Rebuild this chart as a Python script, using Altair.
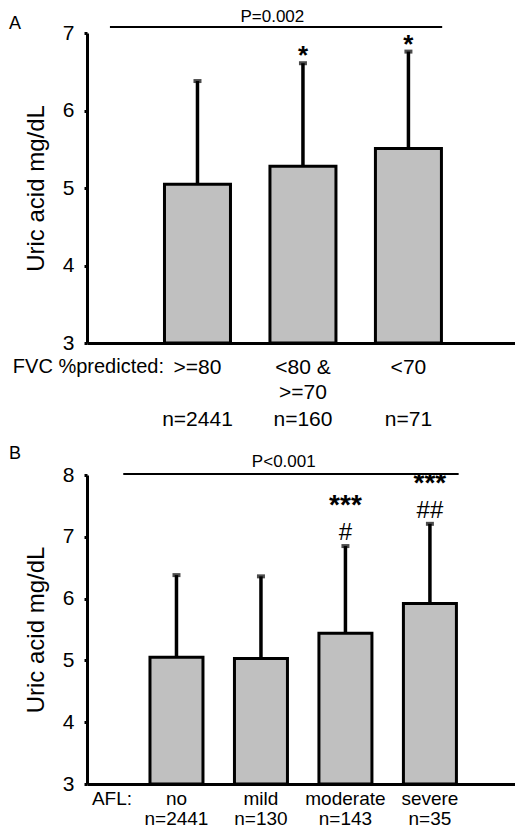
import altair as alt
import pandas as pd

FONT = "Liberation Sans"

# ---------------- data ----------------
fvc_groups = [">=80", "<80 &\n>=70", "<70"]
fvc_n = ["n=2441", "n=160", "n=71"]
fvc_mean = [5.05, 5.28, 5.51]
fvc_upper = [6.38, 6.61, 6.76]
fvc_sig = ["", "*", "*"]
fvc_p = "P=0.002"

afl_groups = ["no", "mild", "moderate", "severe"]
afl_n = ["n=2441", "n=130", "n=143", "n=35"]
afl_mean = [5.05, 5.03, 5.44, 5.92]
afl_upper = [6.38, 6.36, 6.85, 7.21]
afl_sig = ["", "", "***", "***"]
afl_hash = ["", "", "#", "##"]
afl_p = "P<0.001"


def frame(groups, n, mean, upper, sig, hashes=None):
    df = pd.DataFrame({
        "group": groups, "n": n, "mean": mean, "upper": upper, "sig": sig,
    })
    df["hash"] = hashes if hashes is not None else [""] * len(groups)
    df["pos"] = range(1, len(groups) + 1)
    return df


def panel(df, letter, axis_lbl, pval, ymax, W, H, step, bar_w, br, ptx, cfg):
    xs = alt.Scale(domain=[0, W / step], nice=False, zero=False)
    ys = alt.Scale(domain=[3, ymax], nice=False, zero=False)
    xaxis = alt.Axis(ticks=False, labels=False, grid=False, title=None,
                     domainWidth=3, domainColor="black")
    yaxis = alt.Axis(values=list(range(3, ymax + 1)), title="Uric acid mg/dL",
                     grid=False, tickSize=3, tickWidth=3, tickColor="black",
                     domainWidth=3, domainColor="black",
                     labelFontSize=21, labelColor="black", labelFont=FONT,
                     labelPadding=10, titleFontSize=24, titleFontWeight="normal",
                     titleColor="black", titleFont=FONT, titlePadding=14)
    base = alt.Chart(df)
    X = alt.X("pos:Q", scale=xs, axis=xaxis)

    def Y(f):
        return alt.Y(f, scale=ys, axis=yaxis)

    err = base.mark_rule(color="black", strokeWidth=3.5).encode(
        x=X, y=Y("mean:Q"), y2="upper:Q")
    bars = base.mark_bar(size=bar_w, fill="#c0c0c0", stroke="black",
                         strokeWidth=3).encode(
        x=X, y=Y("mean:Q"), y2=alt.datum(3))
    cap = base.mark_tick(orient="horizontal", size=8, thickness=4,
                         color="black").encode(x=X, y=Y("upper:Q"))
    star = base.mark_text(fontSize=cfg["star_size"], fontWeight="bold",
                          font=FONT, baseline="middle",
                          dy=cfg["star_dy"]).encode(
        x=X, y=Y("upper:Q"), text="sig:N")
    hashm = base.mark_text(fontSize=24, font=FONT, baseline="middle",
                           dy=-13).encode(
        x=X, y=Y("upper:Q"), text="hash:N")
    grp = base.mark_text(fontSize=cfg["lbl_size"], font=FONT, baseline="top",
                         lineBreak="\n", lineHeight=cfg["line_h"]).encode(
        x=X, y=alt.value(H + cfg["lbl_dy"]), text="group:N")
    nn = base.mark_text(fontSize=cfg["lbl_size"], font=FONT,
                        baseline="top").encode(
        x=X, y=alt.value(H + cfg["n_dy"]), text="n:N")
    one = alt.Chart(pd.DataFrame({"p": [pval], "letter": [letter],
                                  "axis": [axis_lbl]}))
    bracket = one.mark_rule(color="black", strokeWidth=2).encode(
        x=alt.datum(br[0], scale=xs, axis=xaxis), x2=alt.datum(br[1]),
        y=alt.value(cfg["br_y"]))
    ptext = one.mark_text(fontSize=17, font=FONT, baseline="middle").encode(
        x=alt.datum(ptx, scale=xs, axis=xaxis), y=alt.value(cfg["p_y"]),
        text="p:N")
    let = one.mark_text(fontSize=18, font=FONT, baseline="middle").encode(
        x=alt.value(cfg["let_x"]), y=alt.value(cfg["let_y"]), text="letter:N")
    axl = one.mark_text(fontSize=cfg["axl_size"], font=FONT, baseline="top",
                        align="right").encode(
        x=alt.value(cfg["axl_x"]), y=alt.value(H + cfg["lbl_dy"]),
        text="axis:N")
    return alt.layer(err, bars, cap, star, hashm, grp, nn, bracket, ptext,
                     let, axl).properties(width=W, height=H)


dfa = frame(fvc_groups, fvc_n, fvc_mean, fvc_upper, fvc_sig)
dfb = frame(afl_groups, afl_n, afl_mean, afl_upper, afl_sig, afl_hash)

pa = panel(dfa, "A", "FVC %predicted:", fvc_p, 7, 428, 310, 108, 66,
           (0.17, 3.32), 1.71,
           dict(star_size=26, star_dy=-7, lbl_size=21, line_h=25,
                lbl_dy=14, n_dy=66, br_y=-6, p_y=-16, let_x=-72, let_y=-9,
                axl_x=77, axl_size=20))
pb = panel(dfb, "B", "AFL:", afl_p, 8, 428, 309, 86.5, 53,
           (0.37, 4.34), 2.27,
           dict(star_size=28, star_dy=-40, lbl_size=19, line_h=22,
                lbl_dy=6, n_dy=26, br_y=-1, p_y=-13, let_x=-72, let_y=-21,
                axl_x=45, axl_size=19))

chart = alt.vconcat(pa, pb, spacing=132, bounds="flush").properties(
    padding=0).configure_view(stroke=None).configure_text(font=FONT)

chart.save("out.html", embed_options={"renderer": "svg", "actions": False})
